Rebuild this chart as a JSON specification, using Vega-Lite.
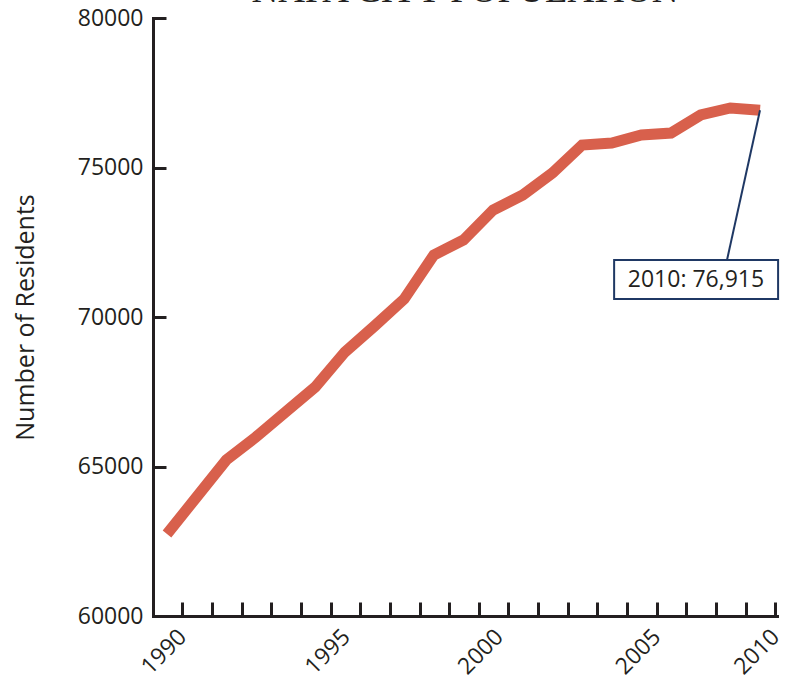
{
  "$schema": "https://vega.github.io/schema/vega-lite/v6.json",
  "width": 624,
  "height": 598,
  "autosize": {"type": "none"},
  "padding": {"left": 153, "top": 18, "right": 17, "bottom": 60},
  "background": "white",
  "config": {"view": {"stroke": null}, "axis": {"grid": false}},
  "title": {
    "text": "NAPA CITY POPULATION",
    "font": "Liberation Serif",
    "fontSize": 37,
    "fontWeight": "normal",
    "color": "#231f20",
    "anchor": "middle",
    "frame": "group",
    "baseline": "alphabetic",
    "offset": 0,
    "dy": 32
  },
  "data": {
    "values": [
      {"year": 1990, "residents": 62742},
      {"year": 1991, "residents": 63980},
      {"year": 1992, "residents": 65217},
      {"year": 1993, "residents": 65987},
      {"year": 1994, "residents": 66823},
      {"year": 1995, "residents": 67659},
      {"year": 1996, "residents": 68829},
      {"year": 1997, "residents": 69699},
      {"year": 1998, "residents": 70602},
      {"year": 1999, "residents": 72074},
      {"year": 2000, "residents": 72575},
      {"year": 2001, "residents": 73579},
      {"year": 2002, "residents": 74080},
      {"year": 2003, "residents": 74816},
      {"year": 2004, "residents": 75753},
      {"year": 2005, "residents": 75819},
      {"year": 2006, "residents": 76087},
      {"year": 2007, "residents": 76154},
      {"year": 2008, "residents": 76756},
      {"year": 2009, "residents": 76990},
      {"year": 2010, "residents": 76915}
    ]
  },
  "layer": [
    {
      "mark": {"type": "line", "color": "#d8604c", "strokeWidth": 11, "strokeCap": "butt", "strokeJoin": "miter"},
      "encoding": {
        "x": {
          "field": "year",
          "type": "quantitative",
          "scale": {"domain": [1989.528, 2010.573], "nice": false, "zero": false},
          "axis": {
            "title": null,
            "values": [1990.516, 1991.516, 1992.516, 1993.516, 1994.516, 1995.516, 1996.04, 1996.516, 1997.516, 1998.516, 1999.516, 2000.516, 2001.2, 2001.516, 2002.516, 2003.516, 2004.516, 2005.516, 2006.516, 2007.516, 2008.516, 2009.516, 2010.516],
            "tickCount": 100,
            "labelExpr": "datum.value == 1990.516 ? '1990' : datum.value == 1996.04 ? '1995' : datum.value == 2001.2 ? '2000' : datum.value == 2006.516 ? '2005' : datum.value == 2010.516 ? '2010' : ''",
            "tickOpacity": {"condition": {"test": "datum.value == 1996.04 || datum.value == 2001.2", "value": 0}, "value": 1},
            "tickSize": -14,
            "tickWidth": 3,
            "tickColor": "#231f20",
            "domainColor": "#231f20",
            "domainWidth": 3,
            "domainCap": "square",
            "labelAngle": -45,
            "labelAlign": "right",
            "labelBaseline": "middle",
            "labelPadding": 31,
            "labelFont": "Open Sans",
            "labelFontSize": 23,
            "labelColor": "#231f20",
            "labelFlush": false,
            "labelOverlap": false,
            "labelBound": false
          }
        },
        "y": {
          "field": "residents",
          "type": "quantitative",
          "scale": {"domain": [60000, 80000], "nice": false, "zero": false},
          "axis": {
            "title": "Number of Residents",
            "values": [60000, 65000, 70000, 75000, 80000],
            "format": "d",
            "tickSize": -13,
            "tickWidth": 3,
            "tickColor": "#231f20",
            "domainColor": "#231f20",
            "domainWidth": 3,
            "domainCap": "square",
            "labelFont": "Open Sans",
            "labelFontSize": 23,
            "labelColor": "#231f20",
            "labelPadding": 23,
            "labelFlush": false,
            "labelOverlap": false,
            "titleFont": "Open Sans",
            "titleFontSize": 25,
            "titleFontWeight": "normal",
            "titleColor": "#231f20",
            "titlePadding": 39
          }
        }
      }
    },
    {
      "transform": [{"filter": "datum.year == 2010"}],
      "mark": {"type": "rule", "color": "#1f3864", "strokeWidth": 2},
      "encoding": {
        "x": {"field": "year", "type": "quantitative"},
        "y": {"field": "residents", "type": "quantitative"},
        "x2": {"datum": 2008.887},
        "y2": {"datum": 71906}
      }
    },
    {
      "transform": [{"filter": "datum.year == 2010"}],
      "mark": {"type": "rect", "fill": "white", "stroke": "#1f3864", "strokeWidth": 2},
      "encoding": {
        "x": {"datum": 2005.08},
        "x2": {"datum": 2010.61},
        "y": {"datum": 71906},
        "y2": {"datum": 70602}
      }
    },
    {
      "transform": [{"filter": "datum.year == 2010"}],
      "mark": {"type": "text", "font": "Open Sans", "fontSize": 23, "color": "#231f20", "align": "center", "baseline": "middle"},
      "encoding": {
        "x": {"datum": 2007.84},
        "y": {"datum": 71254},
        "text": {"value": "2010: 76,915"}
      }
    }
  ]
}
